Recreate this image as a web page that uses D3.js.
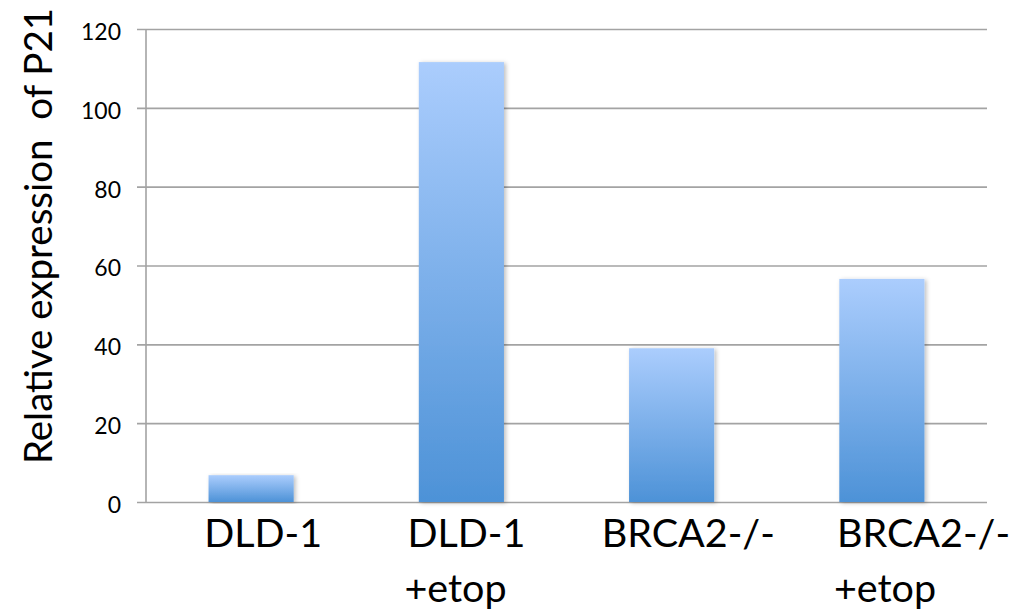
<!DOCTYPE html>
<html><head><meta charset="utf-8">
<script src="https://cdn.jsdelivr.net/npm/d3@7"></script>
<style>body{margin:0;background:#fff;} text{font-family:Lato,"Open Sans",sans-serif;fill:#000;}</style>
</head><body>
<svg id="c" width="1017" height="612"></svg>
<script>
const categories = [["DLD-1"], ["DLD-1", "+etop"], ["BRCA2-/-"], ["BRCA2-/-", "+etop"]];
const values = [6.8, 111.6, 39.0, 56.6];
const yTicks = [0, 20, 40, 60, 80, 100, 120];
const yTitle = "Relative expression  of P21";
// label left-edge offsets from band centre (layout only)
const labelShift = [-47, -54, -70, -45];

const svg = d3.select("#c");
const m = {l:146, r:987, t:29, b:502};
const x = d3.scaleBand().domain(d3.range(categories.length)).range([m.l, m.r]).paddingInner(0).paddingOuter(0);
const y = d3.scaleLinear().domain([0, 120]).range([m.b, m.t]);

const defs = svg.append("defs");
const g = defs.append("linearGradient").attr("id","bg").attr("x1",0).attr("y1",0).attr("x2",0).attr("y2",1);
g.append("stop").attr("offset","0%").attr("stop-color","#abcdfd");
g.append("stop").attr("offset","100%").attr("stop-color","#4d92d7");
const f = defs.append("filter").attr("id","sh").attr("x","-20%").attr("y","-5%").attr("width","140%").attr("height","110%");
f.append("feDropShadow").attr("dx",2).attr("dy",1).attr("stdDeviation",2).attr("flood-color","#000").attr("flood-opacity",0.25);

// gridlines & ticks
const yAxis = d3.axisLeft(y).tickValues(yTicks).tickSize(-(m.r - m.l)).tickPadding(25).tickSizeOuter(0);
const ga = svg.append("g").attr("transform", `translate(${m.l},0)`).call(yAxis);
ga.select(".domain").remove();
ga.selectAll(".tick line").attr("stroke","#a3a3a3").attr("stroke-width",1.6).attr("x1",-9);
ga.selectAll(".tick text").style("font-size","23px").attr("dy","0.45em").style("font-family","Lato, sans-serif").attr("fill","#000");
svg.append("line").attr("x1",m.l).attr("x2",m.l).attr("y1",m.t).attr("y2",m.b).attr("stroke","#a3a3a3").attr("stroke-width",1.6);

// bars
const bw = x.bandwidth() * 0.405;
svg.append("g").selectAll("rect").data(values).join("rect")
  .attr("x", (d,i) => x(i) + x.bandwidth()/2 - bw/2)
  .attr("width", bw)
  .attr("y", d => y(d))
  .attr("height", d => y(0) - y(d))
  .attr("fill","url(#bg)")
  .attr("filter","url(#sh)");

// category labels
const cl = svg.append("g").selectAll("text").data(categories).join("text")
  .attr("x", (d,i) => x(i) + x.bandwidth()/2 + labelShift[i])
  .attr("y", 547)
  .attr("text-anchor","start")
  .attr("font-size",39.5);
cl.each(function(d){
  const t = d3.select(this);
  d.forEach((s,j) => t.append("tspan").attr("x", +t.attr("x") - (j ? 3 : 0)).attr("dy", j===0?0:55).text(s));
});

// y title
svg.append("text").attr("transform","translate(52,236) rotate(-90)")
  .attr("text-anchor","middle").attr("font-size",38.5).style("white-space","pre").text(yTitle);
</script>
</body></html>
